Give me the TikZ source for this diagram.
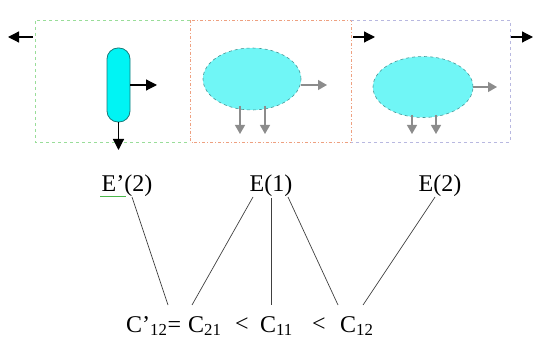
\documentclass[tikz,border=0pt]{standalone}
\usepackage{fontspec}
\setmainfont{Liberation Serif}
\usetikzlibrary{arrows.meta,shapes.geometric}
\definecolor{gbox}{HTML}{99DD99}
\definecolor{obox}{HTML}{EEA080}
\definecolor{lbox}{HTML}{B8B8E0}
\definecolor{cyanf}{HTML}{00F4F4}
\definecolor{ellf}{HTML}{70F6F6}
\definecolor{tealb}{HTML}{1A7A7A}
\tikzset{
  unitbox/.style={line width=0.9pt},
  blackarrow/.style={line width=1.2pt,-{Triangle[length=11pt,width=11pt]}},
  grayarrow/.style={line width=1.2pt,draw=gray!90,-{Triangle[length=9pt,width=10pt]}},
  vessel/.style={ellipse,fill=ellf,draw=tealb!80,dashed,line width=0.6pt,inner sep=0pt},
  lbl/.style={font=\fontsize{24}{27}\selectfont,inner sep=1pt},
  rel/.style={font=\fontsize{24}{27}\selectfont,inner sep=1pt},
  link/.style={line width=0.7pt,draw=black!75},
}
\begin{document}
\begin{tikzpicture}[x=1pt,y=-1pt]
\useasboundingbox (0,0) rectangle (535,339);
% boxes
\draw[unitbox,draw=gbox,dashed] (190,20) -- (35,20) -- (35,142) -- (190,142);
\draw[unitbox,draw=obox,dash dot] (190,20) rectangle (351,142);
\draw[unitbox,draw=lbox,dashed] (351,20) -- (510,20) -- (510,142) -- (351,142);
% stream coordinates
\coordinate (inL) at (33,37);
\coordinate (outL) at (8,37);
\coordinate (mA) at (353,37);
\coordinate (mB) at (375,37);
\coordinate (rA) at (511,37);
\coordinate (rB) at (533,37);
\draw[blackarrow] (inL) -- (outL);
\draw[blackarrow] (mA) -- (mB);
\draw[blackarrow] (rA) -- (rB);
% column
\node[draw=tealb,fill=cyanf,line width=0.8pt,rounded corners=11pt,minimum width=23pt,minimum height=74pt,inner sep=0pt] (col) at (118.5,85) {};
\coordinate (colR) at (157,85);
\coordinate (colB) at (118.5,150);
\draw[blackarrow] (col.east) -- (colR);
\draw[blackarrow] (col.south) -- (colB);
% ellipses
\node[vessel,minimum width=98pt,minimum height=62pt] (e1v) at (252,79) {};
\node[vessel,minimum width=100pt,minimum height=61pt] (e2v) at (423,87) {};
\coordinate (e1R) at (327,85);
\coordinate (e1Ba) at (240,134);
\coordinate (e1Bb) at (265,134);
\coordinate (e2R) at (497,87);
\coordinate (e2Ba) at (412,134);
\coordinate (e2Bb) at (436,134);
\draw[grayarrow] (e1v.east |- e1R) -- (e1R);
\draw[grayarrow] (e1Ba |- 0,106) -- (e1Ba);
\draw[grayarrow] (e1Bb |- 0,106) -- (e1Bb);
\draw[grayarrow] (e2v.east) -- (e2R);
\draw[grayarrow] (e2Ba |- 0,115) -- (e2Ba);
\draw[grayarrow] (e2Bb |- 0,115) -- (e2Bb);
% labels
\node[lbl] (lE2p) at (127,186) {E'(2)};
\node[lbl] (lE1) at (271,186) {E(1)};
\node[lbl] (lE2) at (440,186) {E(2)};
\draw[draw=green!60!black!70,line width=0.8pt] ([yshift=2pt]lE2p.south west) -- ++(26,0);
% bottom relation
\node[lbl,anchor=base west] (c12p) at (125,332) {C'\textsubscript{12}=};
\node[lbl,anchor=base west] (c21) at (187,332) {C\textsubscript{21}};
\node[rel,anchor=base west] (lt1) at (234,331) {<};
\node[lbl,anchor=base west] (c11) at (259,332) {C\textsubscript{11}};
\node[rel,anchor=base west] (lt2) at (311,331) {<};
\node[lbl,anchor=base west] (c12) at (339,332) {C\textsubscript{12}};
% link ends
\coordinate (s1) at (132,197);
\coordinate (s2) at (253,197);
\coordinate (s4) at (288,197);
\coordinate (s5) at (435,197);
\coordinate (t1) at (168,305);
\coordinate (t2) at (192,305);
\coordinate (t4) at (338,305);
\coordinate (t5) at (363,305);
\draw[link] (s1) -- (t1);
\draw[link] (s2) -- (t2);
\draw[link] (lE1.south) -- (lE1.south |- t1);
\draw[link] (s4) -- (t4);
\draw[link] (s5) -- (t5);
\end{tikzpicture}
\end{document}
